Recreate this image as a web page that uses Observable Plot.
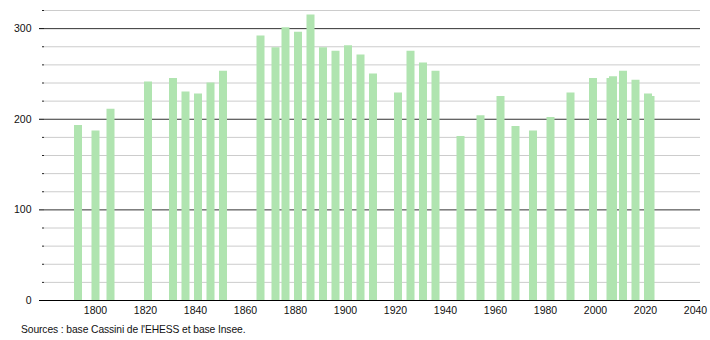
<!DOCTYPE html>
<html>
<head>
<meta charset="utf-8">
<script src="https://cdn.jsdelivr.net/npm/d3@7"></script>
<script src="https://cdn.jsdelivr.net/npm/@observablehq/plot@0.6"></script>
<style>
  html, body { margin: 0; padding: 0; background: #fff; }
  #chart svg { display: block; }
  #caption { font-family: "Liberation Sans", Arial, sans-serif; font-size: 10.3px; letter-spacing: -0.1px; color: #111; margin: 5px 0 0 21px; line-height: 13px; }
</style>
</head>
<body>
<div id="chart"></div>
<div id="caption">Sources : base Cassini de l'EHESS et base Insee.</div>
<script>
const years = [1793, 1800, 1806, 1821, 1831, 1836, 1841, 1846, 1851,
  1866, 1872, 1876, 1881, 1886, 1891, 1896, 1901, 1906, 1911,
  1921, 1926, 1931, 1936, 1946, 1954, 1962, 1968, 1975, 1982, 1990,
  1999, 2006, 2007, 2011, 2016, 2021, 2022];
const population = [193, 187, 211, 241, 245, 230, 228, 240, 253,
  292, 279, 301, 296, 315, 279, 275, 281, 271, 250,
  229, 275, 262, 253, 181, 204, 225, 192, 187, 202, 229,
  245, 245, 247, 253, 243, 228, 225];
const xTicks = [1800, 1820, 1840, 1860, 1880, 1900, 1920, 1940, 1960, 1980, 2000, 2020, 2040];
const yMajor = [0, 100, 200, 300];
const yMinor = [20, 40, 60, 80, 120, 140, 160, 180, 220, 240, 260, 280, 320];

const data = years.map((y, i) => ({year: y, pop: population[i]}));

const chart = Plot.plot({
  width: 710,
  height: 318,
  marginTop: 10,
  marginBottom: 18,
  marginLeft: 44,
  marginRight: 10,
  style: {fontFamily: "'Liberation Sans', Arial, sans-serif", fontSize: "10.5px", color: "#111", background: "#fff"},
  x: {domain: [1779.6, 2042], label: null},
  y: {domain: [0, 320], label: null},
  marks: [
    Plot.ruleY(yMinor, {stroke: "#cccccc", strokeWidth: 1}),
    Plot.ruleY(yMajor.filter(d => d > 0), {stroke: "#333333", strokeWidth: 1}),
    Plot.ruleX(data, {x: "year", y1: 0, y2: "pop", stroke: "#b0e4b0", strokeWidth: 8}),
    Plot.ruleY([0], {stroke: "#000", strokeWidth: 1.2}),
    Plot.axisY(yMinor, {tickSize: 2, tickFormat: () => "", stroke: "#222"}),
    Plot.axisY(yMajor, {tickSize: 5, tickPadding: 8, line: true, stroke: "#000"}),
    Plot.axisX(xTicks, {tickSize: 0, tickPadding: 6, tickFormat: d => String(d)})
  ]
});
document.getElementById("chart").appendChild(chart);
</script>
</body>
</html>
